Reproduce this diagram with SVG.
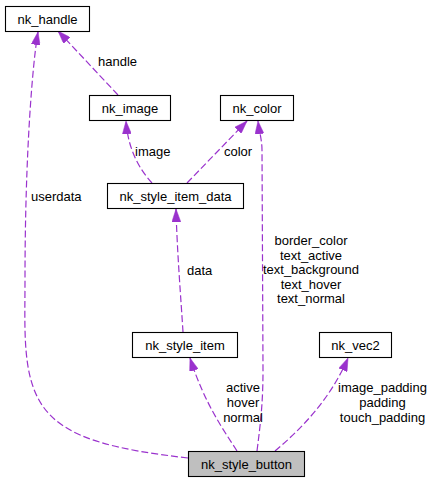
<svg xmlns="http://www.w3.org/2000/svg" width="435" height="483" viewBox="0 0 435 483">
  <style>
    text { font-family: "Liberation Sans", Arial, Helvetica, sans-serif; font-size: 13px; fill: #000; }
    .node rect { fill: #fff; stroke: #000; stroke-width: 1.1; }
    .node text { text-anchor: middle; }
    #node_nk_style_button rect { fill: #bfbfbf; }
    .edge { fill: none; stroke: #9a32cd; stroke-width: 1.2; stroke-dasharray: 7,3; marker-end: url(#arrow); }
    .lbl-c { text-anchor: middle; }
  </style>
  <defs>
    <marker id="arrow" viewBox="0 0 13 9" refX="13" refY="4.5" markerWidth="13" markerHeight="9" markerUnits="userSpaceOnUse" orient="auto">
      <path d="M0,0 L13,4.5 L0,9 z" fill="#9a32cd" stroke="#9a32cd" stroke-width="0.5"/>
    </marker>
  </defs>

  <g id="connectors">
    <!-- userdata -->
    <path class="edge" d="M188,458 C120,450 65,440 42,405 C22,375 25,330 25,280 C25,150 33,60 38,32"/>
    <!-- handle -->
    <path class="edge" d="M118,95 L58,31"/>
    <!-- image -->
    <path class="edge" d="M152,183 C140,170 128,150 126,121"/>
    <!-- color -->
    <path class="edge" d="M187,183 L247,121"/>
    <!-- data -->
    <path class="edge" d="M183,332 C181,300 177,250 176,209"/>
    <!-- colors of the button -->
    <path class="edge" d="M257,451 C261,420 263,400 263,370 L262,150 C262,140 259,130 258,121"/>
    <!-- item states -->
    <path class="edge" d="M237,451 C225,432 205,405 190,358"/>
    <!-- paddings -->
    <path class="edge" d="M275,451 C300,430 330,400 348,358"/>

    <text x="98" y="66">handle</text>
    <text x="31" y="201">userdata</text>
    <text x="135" y="156">image</text>
    <text x="224" y="156">color</text>
    <text x="187" y="275">data</text>
    <text class="lbl-c" x="311" y="245">border_color</text>
    <text class="lbl-c" x="311" y="259.5">text_active</text>
    <text class="lbl-c" x="311" y="274">text_background</text>
    <text class="lbl-c" x="311" y="288.5">text_hover</text>
    <text class="lbl-c" x="311" y="303">text_normal</text>
    <text class="lbl-c" x="243" y="392">active</text>
    <text class="lbl-c" x="243" y="407">hover</text>
    <text class="lbl-c" x="243" y="422">normal</text>
    <text class="lbl-c" x="382.5" y="392">image_padding</text>
    <text class="lbl-c" x="382.5" y="407">padding</text>
    <text class="lbl-c" x="382.5" y="422">touch_padding</text>
  </g>

  <g id="node_nk_handle" class="node">
    <rect x="5.5" y="6.5" width="84" height="25"/>
    <text x="47.5" y="23.5">nk_handle</text>
  </g>
  <g id="node_nk_image" class="node">
    <rect x="89.5" y="95.5" width="81" height="25"/>
    <text x="130" y="112.5">nk_image</text>
  </g>
  <g id="node_nk_color" class="node">
    <rect x="220.5" y="95.5" width="73" height="25"/>
    <text x="257" y="112.5">nk_color</text>
  </g>
  <g id="node_nk_style_item_data" class="node">
    <rect x="107.5" y="183.5" width="136" height="25"/>
    <text x="175.5" y="200.5">nk_style_item_data</text>
  </g>
  <g id="node_nk_style_item" class="node">
    <rect x="132.5" y="332.5" width="105" height="25"/>
    <text x="185" y="349.5">nk_style_item</text>
  </g>
  <g id="node_nk_vec2" class="node">
    <rect x="319.5" y="332.5" width="72" height="25"/>
    <text x="355.5" y="349.5">nk_vec2</text>
  </g>
  <g id="node_nk_style_button" class="node">
    <rect x="188.5" y="451.5" width="116" height="25"/>
    <text x="246.5" y="468.5">nk_style_button</text>
  </g>
</svg>
